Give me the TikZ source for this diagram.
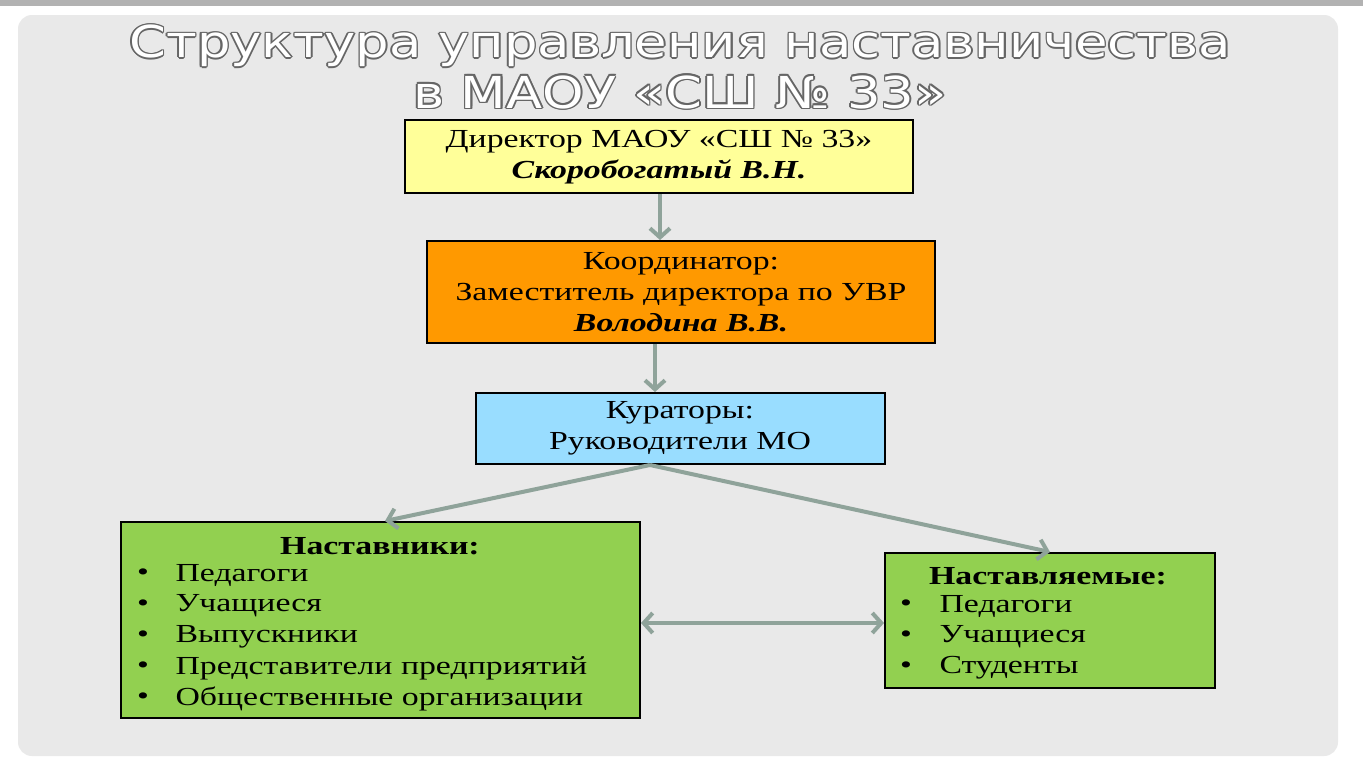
\documentclass[tikz,border=0pt]{standalone}
\usepackage{fontspec}
\setmainfont{Liberation Serif}[FakeStretch=1.3]
\newfontfamily\titlefont{DejaVu Sans}[FakeStretch=1.2]
\usetikzlibrary{arrows.meta,calc}
\definecolor{panel}{HTML}{E9E9E9}
\definecolor{arr}{HTML}{8FA39A}
\definecolor{cyel}{HTML}{FFFF99}
\definecolor{cora}{HTML}{FF9900}
\definecolor{cblu}{HTML}{99DDFF}
\definecolor{cgrn}{HTML}{92D050}
\newcommand{\outl}[3]{%
 \foreach \dx/\dy in {-1.6/0,1.6/0,0/-1.6,0/1.6,-1.1/-1.1,1.1/1.1,-1.1/1.1,1.1/-1.1}{
  \node[text=gray!80!black,font=\titlefont\fontsize{44}{50}\selectfont] at ($(#1,#2)+(\dx,\dy)$) {#3};}
 \node[text=white,font=\titlefont\fontsize{44}{50}\selectfont] at (#1,#2) {#3};}
\begin{document}
\begin{tikzpicture}[x=1pt,y=-1pt,
  box/.style={draw=black,line width=2pt,inner sep=0pt},
  txt/.style={font=\fontsize{26}{31}\selectfont,align=center},
  con/.style={draw=arr,line width=4pt,-{Straight Barb[length=9pt,width=20pt]}}]
\useasboundingbox (0,0) rectangle (1363,772);
\fill[white] (0,0) rectangle (1363,772);
\fill[gray!60] (0,0) rectangle (1363,6);
\fill[panel] (18,15) [rounded corners=14pt] rectangle (1338,756);
\outl{680}{46}{Структура управления наставничества}
\outl{680}{92}{в МАОУ «СШ № 33»}
\draw[box,fill=cyel] (405,120) rectangle (913,193);
\node[txt] (d) at (659,157) {Директор МАОУ «СШ № 33»\\\textbf{\textit{Скоробогатый В.Н.}}};
\draw[box,fill=cora] (427,241) rectangle (935,343);
\node[txt] (k) at (681,292) {Координатор:\\Заместитель директора по УВР\\\textbf{\textit{Володина В.В.}}};
\draw[box,fill=cblu] (476,393) rectangle (885,464);
\node[txt] (c) at (680,428) {Кураторы:\\Руководители МО};
\draw[box,fill=cgrn] (121,522) rectangle (640,718);
\draw[box,fill=cgrn] (885,553) rectangle (1215,688);
\node[txt] (n1) at (380,546) {\textbf{Наставники:}};
\foreach \t [count=\i] in {Педагоги,Учащиеся,Выпускники,Представители предприятий,Общественные организации}{
 \node[font=\fontsize{26}{31}\selectfont] (b\i) at (143,544+31*\i) {•};
 \node[font=\fontsize{26}{31}\selectfont,anchor=west] (t\i) at (172,544+31*\i) {\t};}
\node[txt] (n2) at (1048,576) {\textbf{Наставляемые:}};
\foreach \t [count=\i] in {Педагоги,Учащиеся,Студенты}{
 \node[font=\fontsize{26}{31}\selectfont] (c\i) at (906,575+31*\i) {•};
 \node[font=\fontsize{26}{31}\selectfont,anchor=west] (s\i) at (936,575+31*\i) {\t};}
\coordinate (a1) at (660,194); \coordinate (a2) at (660,240);
\coordinate (a3) at (655,344); \coordinate (a4) at (655,392);
\coordinate (a5) at (650,465); \coordinate (a6) at (385,521); \coordinate (a7) at (1050,552);
\coordinate (a8) at (641,623); \coordinate (a9) at (884,623);
\draw[con] (a1) -- (a2);
\draw[con] (a3) -- (a4);
\draw[con] (a5) -- (a6);
\draw[con] (a5) -- (a7);
\draw[con,{Straight Barb[length=9pt,width=20pt]}-{Straight Barb[length=9pt,width=20pt]}] (a8) -- (a9);
\end{tikzpicture}
\end{document}
